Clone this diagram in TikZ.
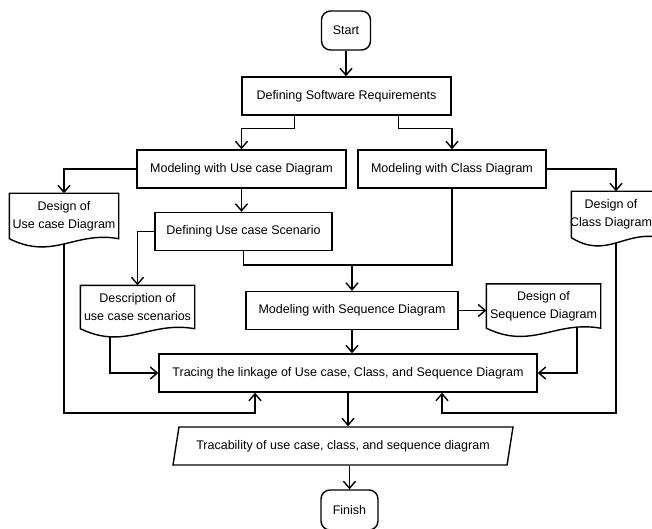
\documentclass[tikz,border=0pt]{standalone}
\usepackage{fontspec}
\setmainfont{Liberation Sans}
\usetikzlibrary{arrows.meta,shapes.geometric,calc}
% document outline with a wavy bottom, round an existing node
\newcommand{\docshape}[1]{%
\draw[fill=white] (#1.north west) -- (#1.north east) -- (#1.south east)
  .. controls ($(#1.south west)!0.6!(#1.south east)+(0,-8)$) and ($(#1.south west)!0.4!(#1.south east)+(0,22)$) .. (#1.south west) -- cycle;}
\begin{document}
\begin{tikzpicture}[x=1pt,y=-1pt,line width=1.4pt,
  >={Straight Barb[length=7pt,width=12pt]},
  every node/.style={font=\fontsize{12.5}{18}\selectfont},
  box/.style={draw,minimum height=38pt,inner sep=2pt},
  term/.style={draw,rounded corners=9pt,minimum width=49pt,minimum height=39pt},
  doc/.style={align=center,inner sep=1pt}]
\useasboundingbox (0,0) rectangle (652,529);
\node [term] (start) at (346,30.5) {Start};
\node [box,minimum width=209pt] (req) at (346.5,96) {Defining Software Requirements};
\node [box,minimum width=209pt] (ucd) at (241.5,169) {Modeling with Use case Diagram};
\node [box,minimum width=188pt] (cld) at (452,169) {Modeling with Class Diagram};
\node [doc,minimum width=108pt,minimum height=44pt] (ducd) at (64,216) {};
\node [doc,minimum width=88pt,minimum height=45pt] (dcld) at (616,214.5) {};
\node [box,minimum width=177pt] (ducs) at (243.5,231.5) {Defining Use case Scenario};
\node [doc,minimum width=113pt,minimum height=42pt] (desc) at (137.5,307) {};
\node [box,minimum width=212pt] (msd) at (352,310.5) {Modeling with Sequence Diagram};
\node [doc,minimum width=113pt,minimum height=43pt] (dsd) at (543.5,306) {};
\node [box,minimum width=378pt] (trace) at (348,373) {Tracing the linkage of Use case, Class, and Sequence Diagram};
\node [draw,trapezium,trapezium left angle=72,trapezium right angle=108,trapezium stretches body,
  minimum width=340pt,minimum height=38pt] (trac) at (343,446) {Tracability of use case, class, and sequence diagram};
\node [term,minimum width=57pt,minimum height=40pt] (finish) at (349.5,510) {Finish};
\coordinate (mrg) at (352,265);
\coordinate (lowl) at (255,413);
\coordinate (lowr) at (442,413);
\draw[->] (start.south) -- (start.south |- req.north);
\draw[->] ([xshift=-52pt]req.south) -- ++(0,13) -| (ucd.north);
\draw[->] ([xshift=52pt]req.south) -- ++(0,13) -| (cld.north);
\draw[->] (ucd.west) -| (ducd.north);
\draw[->] (cld.east) -| (dcld.north);
\draw[->] (ucd.south) -- (ucd.south |- ducs.north);
\draw[->] (ducs.west) -| (desc.north);
\draw (ducs.south) |- (mrg);
\draw (cld.south) |- (mrg);
\draw[->] (mrg) -- (msd.north);
\draw[->] (msd.east) -- (msd.east -| dsd.west);
\draw[->] (msd.south) -- (msd.south |- trace.north);
\draw[->] ([xshift=-27.5pt]desc.south) |- (trace.west);
\draw[->] ([xshift=33.5pt]dsd.south) |- (trace.east);
\draw[->] (ducd.south) |- (lowl) -- (lowl |- trace.south);
\draw[->] (dcld.south) |- (lowr) -- (lowr |- trace.south);
\draw[->] (trace.south) -- (trace.south |- trac.north);
\draw[->] (finish.north |- trac.south) -- (finish.north);
\docshape{ducd}
\docshape{dcld}
\docshape{desc}
\docshape{dsd}
\node [doc] (ducdtxt) at (ducd) {Design of\\Use case Diagram};
\node [doc] (dcldtxt) at (611,214.5) {Design of\\Class Diagram};
\node [doc] (desctxt) at (desc) {Description of\\use case scenarios};
\node [doc] (dsdtxt) at (dsd) {Design of\\Sequence Diagram};
\end{tikzpicture}
\end{document}
